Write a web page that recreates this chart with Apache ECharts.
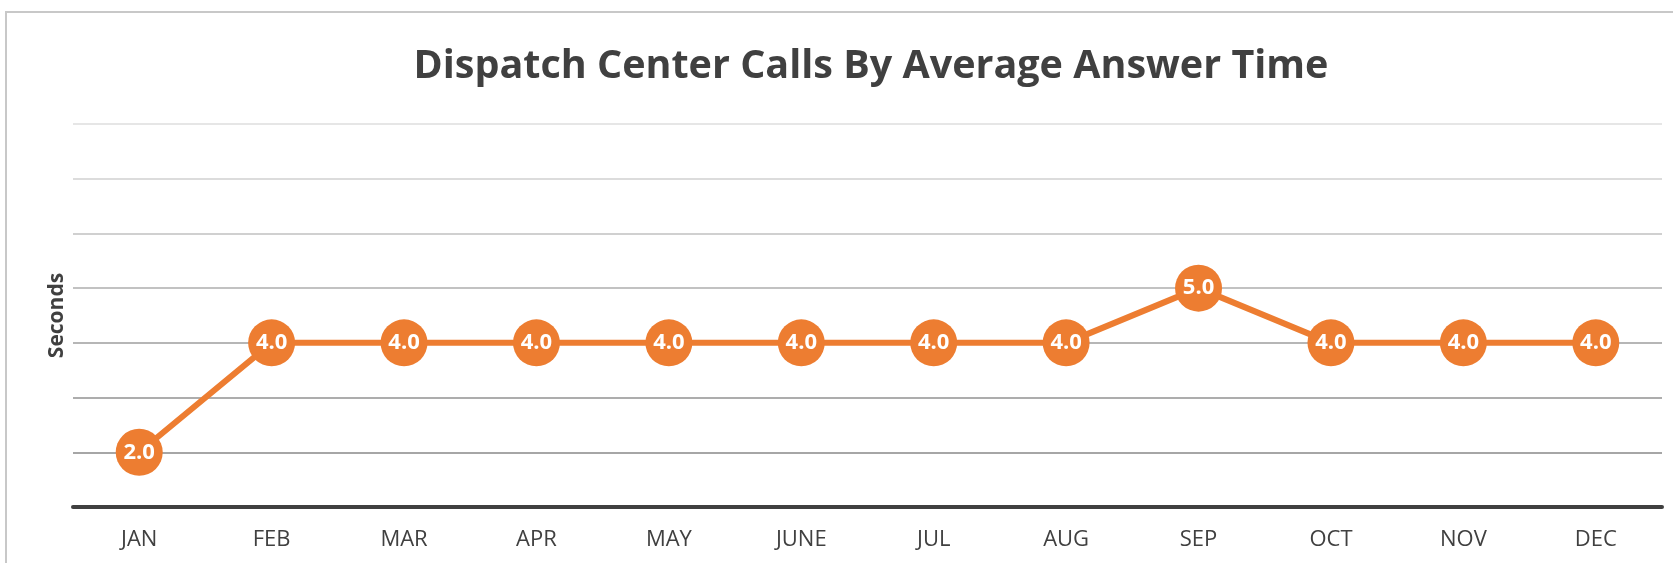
<!DOCTYPE html>
<html>
<head>
<meta charset="utf-8">
<script src="https://cdn.jsdelivr.net/npm/echarts@6/dist/echarts.min.js"></script>
<style>
html,body{margin:0;padding:0;background:#fff;overflow:hidden;}
#frame{position:absolute;left:5px;top:11px;width:1700px;height:600px;border-left:2px solid #c8c8c8;border-top:2px solid #c8c8c8;}
#chart{position:absolute;left:0;top:0;width:1673px;height:563px;}
</style>
</head>
<body>
<div id="frame"></div>
<div id="chart"></div>
<script>
const titleText = 'Dispatch Center Calls By Average Answer Time';
const yAxisName = 'Seconds';
const months = ['JAN','FEB','MAR','APR','MAY','JUNE','JUL','AUG','SEP','OCT','NOV','DEC'];
const answerTime = [2.0, 4.0, 4.0, 4.0, 4.0, 4.0, 4.0, 4.0, 5.0, 4.0, 4.0, 4.0];

const chart = echarts.init(document.getElementById('chart'), null, {renderer:'canvas'});
chart.setOption({
  backgroundColor: 'transparent',
  animation: false,
  title: {
    text: titleText,
    left: 866, textAlign: 'center',
    top: 42,
    textStyle: {fontFamily:'Open Sans', fontWeight:'bold', fontSize:39.5, color:'#404040'}
  },
  grid: {left:73, right:11, top:124, bottom:56, containLabel:false},
  xAxis: {
    type:'category',
    data: months,
    boundaryGap: true,
    axisLine: {show:true, lineStyle:{color:'#404040', width:4}},
    axisTick: {show:false},
    axisLabel: {fontFamily:'Open Sans', fontSize:22, color:'#404040', margin:22},
    splitLine: {show:false}
  },
  yAxis: {
    type:'value',
    min:1, max:8, interval:1,
    name: yAxisName,
    nameLocation:'middle',
    nameRotate: 90,
    nameGap: 5,
    nameTextStyle: {fontFamily:'Open Sans', fontWeight:'bold', fontSize:21, color:'#404040'},
    axisLine:{show:false},
    axisTick:{show:false},
    axisLabel:{show:false},
    splitLine:{show:true, lineStyle:{width:2, color:['#404040','#a6a6a6','#adadad','#b6b6b6','#c2c2c2','#d0d0d0','#dcdcdc','#e6e6e6']}}
  },
  series: [{
    type:'line',
    data: answerTime,
    symbol:'circle',
    symbolSize:47,
    lineStyle:{color:'#ED7D31', width:6},
    itemStyle:{color:'#ED7D31'},
    label:{show:true, position:'inside', formatter: p => p.value.toFixed(1), fontFamily:'Open Sans', fontWeight:'bold', fontSize:22, color:'#ffffff'},
    z: 3
  }]
});
</script>
</body>
</html>
